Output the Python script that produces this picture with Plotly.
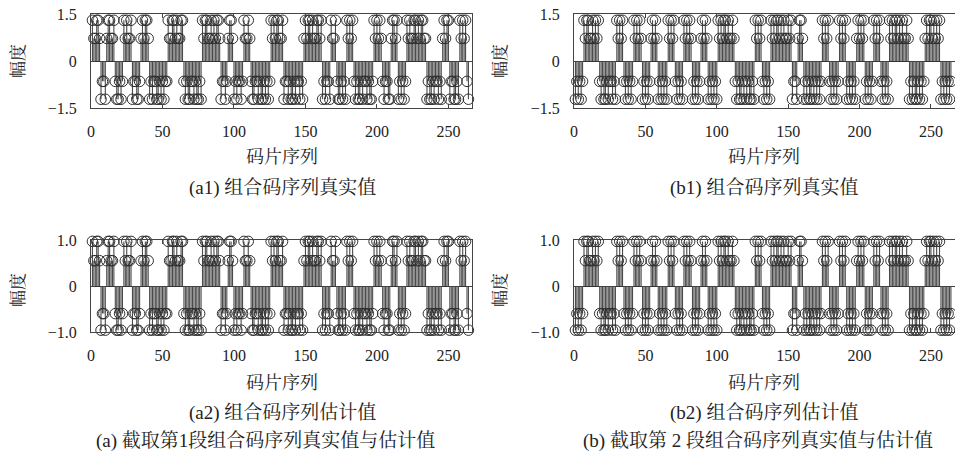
import plotly.graph_objects as go

# ---- data ----
# Codes: H / L = positive high / low level, h / l = negative high / low level
a_code_runs = ["HLLHHL", "hllh", "LHHLLH", "lhhlhl", "HLHLLH", "hllhhl", "LHLHHL",
               "hlhllhhlhlhll", "HLLHHLHLLHH", "lhlhhllhlhhlh", "HLHHLLHLHLHHL",
               "hllhl", "LHHL", "hlhllhl", "HLLHL", "lhhllhlhhlhlhl", "HLHLHHLLH",
               "hllhlhhlhllhlh", "LHLHHLHLLHHLH", "hlhllh", "HLLH", "lhhlhlh", "HLHLH",
               "lhlhhlhllhlhhl", "HLHLHL", "lhllhh", "LHHLH", "hlhlhl", "HLHLLHHLHLHHLL",
               "hlhhlhllhlh", "LHLHH", "hllhhlh", "HLHLH", "lh"]
b_code_runs = ["hlhlhl", "HLHHLLHLHLH", "lhlhhlhllhlh", "HLHLH", "lhlhlhl", "HLHLHL",
               "hlhlhl", "LHLHL", "hlhlhlh", "HLHLH", "lhlhlh", "HLHLHL", "hlhlhl",
               "LHLHL", "hlhlhlh", "HLHLHHLHLLHL", "lhlhhlhlhlhhlh", "HLHLH", "lhlhlh",
               "HLHLHHLHLHLLHLH", "hllh", "LHHL", "hlhlhhlhlhlhl", "HLHLH", "lhlhlhl",
               "HLHLH", "hlhlhlh", "LHLHLH", "hlhlhl", "HLHLH", "lhlhlh",
               "HLHLHHLHLHLLHL", "hlhlhhlhlhl", "LHLHHLHLHLH", "hlhlhlhl"]
true_levels = {"H": 1.3, "L": 0.72, "l": -0.65, "h": -1.22}
est_levels = {"H": 0.97, "L": 0.55, "l": -0.6, "h": -0.96}

x_ticks = [0, 50, 100, 150, 200, 250]
y_ticks_true = [-1.5, 0, 1.5]
y_tick_labels_true = ["\u22121.5", "0", "1.5"]
y_ticks_est = [-1.0, 0, 1.0]
y_tick_labels_est = ["\u22121.0", "0", "1.0"]

a_codes = "".join(a_code_runs)
b_codes = "".join(b_code_runs)
a_true = [true_levels[c] for c in a_codes]
a_est = [est_levels[c] for c in a_codes]
b_true = [true_levels[c] for c in b_codes]
b_est = [est_levels[c] for c in b_codes]

W, H = 955, 462
FONT = "Liberation Serif, Noto Serif CJK SC, Noto Sans CJK SC, serif"
STEM = "#4a4a4a"
MARK = "#2e2e2e"

fig = go.Figure()

panels = [
    (a_true, "x", "y", 91, 472, 14, 108, [-1.5, 1.5], y_ticks_true, y_tick_labels_true),
    (b_true, "x2", "y2", 574, 954.5, 14, 108, [-1.5, 1.5], y_ticks_true, y_tick_labels_true),
    (a_est, "x3", "y3", 91, 472, 240, 332, [-1.0, 1.0], y_ticks_est, y_tick_labels_est),
    (b_est, "x4", "y4", 574, 954.5, 240, 332, [-1.0, 1.0], y_ticks_est, y_tick_labels_est),
]

for i, (vals, xa, ya, l, r, t, b, yr, ytv, ytt) in enumerate(panels):
    xs = list(range(1, len(vals) + 1))
    sx, sy = [], []
    for xv, yv in zip(xs, vals):
        sx += [xv, xv, None]
        sy += [0, yv, None]
    fig.add_trace(go.Scatter(x=sx, y=sy, mode="lines", xaxis=xa, yaxis=ya,
                             line=dict(color=STEM, width=1.1), hoverinfo="skip",
                             showlegend=False))
    fig.add_trace(go.Scatter(x=xs, y=vals, mode="markers", xaxis=xa, yaxis=ya,
                             marker=dict(symbol="circle-open", size=10.5, color=MARK,
                                         line=dict(width=1, color=MARK)),
                             cliponaxis=False, showlegend=False))
    sfx = "" if i == 0 else str(i + 1)
    common = dict(showline=True, linecolor="#444", linewidth=1, mirror="ticks",
                  ticks="inside", ticklen=4, tickcolor="#444", showgrid=False,
                  automargin=False,
                  tickfont=dict(family=FONT, size=16, color="#222"))
    fig.update_layout(**{
        "xaxis" + sfx: dict(domain=[l / W, r / W], range=[0, 266.5], tickvals=x_ticks,
                            anchor=ya, zeroline=False, ticklabelstandoff=9, **common),
        "yaxis" + sfx: dict(domain=[1 - b / H, 1 - t / H], range=yr, tickvals=ytv,
                            ticktext=ytt, anchor=xa, zeroline=True, zerolinecolor="#333",
                            zerolinewidth=1, ticklabelstandoff=10, **common),
    })

def ann(text, px, py, size=18, angle=0):
    fig.add_annotation(text=text, x=px / W, y=1 - py / H, xref="paper", yref="paper",
                       showarrow=False, textangle=angle, xanchor="center", yanchor="middle",
                       font=dict(family=FONT, size=size, color="#222"))

for cx, label_cx in [(282, 18), (764, 500)]:
    ann("码片序列", cx, 157)
    ann("码片序列", cx, 383)
    ann("幅度", label_cx, 61, size=17, angle=-90)
    ann("幅度", label_cx, 290, size=17, angle=-90)
ann("(a1) 组合码序列真实值", 282, 188, size=19)
ann("(b1) 组合码序列真实值", 764, 188, size=19)
ann("(a2) 组合码序列估计值", 282, 413, size=19)
ann("(b2) 组合码序列估计值", 764, 413, size=19)
ann("(a) 截取第1段组合码序列真实值与估计值", 265, 441, size=19)
ann("(b) 截取第 2 段组合码序列真实值与估计值", 758, 441, size=19)

fig.update_layout(template="none", width=W, height=H,
                  margin=dict(l=0, r=0, t=0, b=0, pad=0, autoexpand=False),
                  paper_bgcolor="white", plot_bgcolor="white")
fig.write_html("out.html", config={"displayModeBar": False},
               post_script="document.body.style.margin='0';")
